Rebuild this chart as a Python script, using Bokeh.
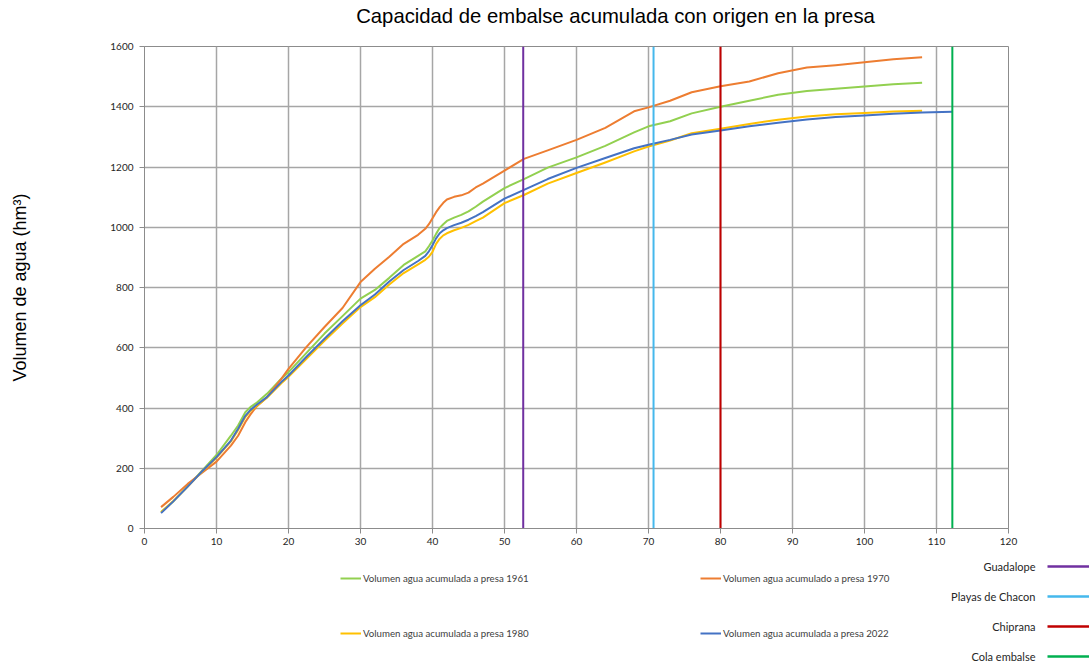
from bokeh.core.properties import value
from bokeh.embed import file_html
from bokeh.layouts import column
from bokeh.models import FixedTicker, Label, Legend, LegendItem, Range1d
from bokeh.plotting import figure
from bokeh.resources import INLINE

# Distance from the dam (km) and accumulated storage (hm3)
dist_km = [2.3, 4, 6, 8, 10, 12, 13, 14, 14.7, 15.5, 17, 19, 20, 22.5, 25, 27.5, 30, 32,
           34, 36, 38, 39, 39.5, 40, 40.5, 41, 41.5, 42, 43, 44, 45, 46, 47, 50, 52.7, 56,
           60, 64, 68, 70, 73, 76, 80, 84, 88, 92, 96, 100, 104, 108]
dist_km_2022 = dist_km + [112.2]

vol_1961 = [55, 90, 140, 192, 244, 308, 342, 386, 403, 416, 447, 497, 519, 583, 647, 705,
            763, 792, 832, 875, 905, 920, 937, 956, 978, 998, 1010, 1021, 1032, 1041, 1053,
            1068, 1085, 1130, 1160, 1198, 1232, 1270, 1315, 1335, 1352, 1378, 1400, 1420,
            1440, 1452, 1460, 1467, 1475, 1480]
vol_1970 = [71, 105, 148, 185, 222, 275, 308, 353, 378, 403, 436, 497, 530, 603, 669, 732,
            818, 862, 902, 945, 975, 995, 1010, 1030, 1050, 1067, 1081, 1092, 1101, 1106,
            1115, 1132, 1145, 1188, 1227, 1255, 1290, 1330, 1385, 1398, 1420, 1448, 1468,
            1484, 1511, 1530, 1538, 1548, 1558, 1564]
vol_1980 = [54, 91, 139, 189, 235, 289, 327, 370, 390, 405, 434, 482, 504, 563, 623, 680,
            735, 768, 810, 848, 877, 892, 902, 918, 945, 962, 973, 980, 990, 998, 1008,
            1020, 1032, 1080, 1107, 1145, 1180, 1215, 1252, 1268, 1288, 1312, 1327, 1343,
            1357, 1368, 1375, 1379, 1384, 1387]
vol_2022 = [51, 90, 139, 190, 237, 292, 331, 374, 393, 409, 436, 486, 508, 570, 630, 688,
            741, 777, 820, 858, 888, 905, 920, 940, 963, 980, 990, 997, 1007, 1015, 1025,
            1037, 1050, 1095, 1124, 1160, 1197, 1230, 1262, 1274, 1290, 1308, 1321, 1335,
            1347, 1358, 1366, 1371, 1377, 1381, 1383]

series_labels = ["Volumen agua acumulada a presa 1961",
                 "Volumen agua acumulado a presa 1970",
                 "Volumen agua acumulada a presa 1980",
                 "Volumen agua acumulada a presa 2022"]
series_colors = ["#92d050", "#ed7d31", "#ffc000", "#4472c4"]

# Reference points along the reservoir (km from the dam)
site_names = ["Guadalope", "Playas de Chacon", "Chiprana", "Cola embalse"]
site_km = [52.6, 70.7, 80.0, 112.2]
site_colors = ["#7030a0", "#45b8ec", "#c00000", "#00b050"]

x_ticks = list(range(0, 121, 10))
y_ticks = list(range(0, 1601, 200))

title_text = "Capacidad de embalse acumulada con origen en la presa"
y_label_text = "Volumen de agua (hm³)"

SMALL_FONT = "Lato"
BIG_FONT = "Liberation Sans"
TEXT_COLOR = "#404040"

W = 1089
TOP_H = 32            # title strip
MAIN_H = 558 - TOP_H  # chart, frame from y=46 to y=528 on the page
KEY_H = 666 - 558     # legend strip


def strip(height):
    f = figure(width=W, height=height, x_range=Range1d(0, 1), y_range=Range1d(0, 1),
               output_backend="svg", toolbar_location=None,
               x_axis_location=None, y_axis_location=None,
               min_border=0, outline_line_color=None)
    f.grid.visible = False
    f.title.visible = False
    f.frame_align = False
    f.background_fill_color = "white"
    f.border_fill_color = "white"
    return f


# ---- title strip ---------------------------------------------------------------
top = strip(TOP_H)
top.add_layout(Label(x=615, y=TOP_H - 15, x_units="screen", y_units="screen",
                     text=title_text, text_align="center", text_baseline="middle",
                     text_font=BIG_FONT, text_font_size="20.3px", text_color="#000000"))

# ---- main chart ------------------------------------------------------------
p = figure(width=W, height=MAIN_H,
           x_range=Range1d(x_ticks[0], x_ticks[-1]),
           y_range=Range1d(y_ticks[0], y_ticks[-1]),
           output_backend="svg", toolbar_location=None,
           min_border_left=144, min_border_right=81,
           min_border_top=46 - TOP_H, min_border_bottom=30)
p.title.visible = False
p.frame_align = False
p.background_fill_color = "white"
p.border_fill_color = "white"
p.outline_line_color = "#8c8c8c"
p.outline_line_width = 1

for ax in (p.xaxis[0], p.yaxis[0]):
    ax.axis_line_color = "#8c8c8c"
    ax.axis_line_width = 1
    ax.major_tick_line_color = "#8c8c8c"
    ax.major_tick_out = 5
    ax.major_tick_in = 0
    ax.minor_tick_line_color = None
    ax.major_label_text_font = SMALL_FONT
    ax.major_label_text_font_size = "10px"
    ax.major_label_text_color = "#262626"
p.xaxis.ticker = FixedTicker(ticks=x_ticks)
p.yaxis.ticker = FixedTicker(ticks=y_ticks)
p.xaxis.major_label_standoff = 4
p.yaxis.major_label_standoff = 6

p.yaxis.axis_label = y_label_text
p.yaxis.axis_label_text_font = BIG_FONT
p.yaxis.axis_label_text_font_size = "18px"
p.yaxis.axis_label_text_font_style = "normal"
p.yaxis.axis_label_text_color = "#000000"
p.yaxis.axis_label_standoff = 77

p.xgrid.ticker = FixedTicker(ticks=x_ticks)
p.ygrid.ticker = FixedTicker(ticks=y_ticks)
for g in (p.xgrid[0], p.ygrid[0]):
    g.grid_line_color = "#a6a6a6"
    g.grid_line_width = 1.5

# Accumulated volume curves
curve_x = [dist_km, dist_km, dist_km, dist_km_2022]
curve_y = [vol_1961, vol_1970, vol_1980, vol_2022]
for xs, ys, col in zip(curve_x, curve_y, series_colors):
    p.line(xs, ys, line_color=col, line_width=2, line_join="round")

# Vertical markers for the reservoir sites
for km, col in zip(site_km, site_colors):
    p.line([km, km], [y_ticks[0], y_ticks[-1]], line_color=col, line_width=2)

# ---- legend strip -------------------------------------------------------------
key = strip(KEY_H)

# Swatch carriers: same styling as the chart lines; their data lies outside
# the strip's 0..1 ranges so only the legend samples show.
curve_keys = [key.line(xs, ys, line_color=c, line_width=2)
              for xs, ys, c in zip(curve_x, curve_y, series_colors)]
site_keys = [key.line([km, km], [y_ticks[0], y_ticks[-1]], line_color=c, line_width=2.5)
             for km, c in zip(site_km, site_colors)]

# items fill column by column: 1961 / 1980 on the left, 1970 / 2022 on the right
order = [0, 2, 1, 3]
curve_legend = Legend(
    items=[LegendItem(label=value(series_labels[i]), renderers=[curve_keys[i]])
           for i in order],
    location=(340, KEY_H - 85),
    ncols=2, glyph_width=21, glyph_height=20, label_height=20,
    label_width=302, label_standoff=2, spacing=35, padding=0, margin=0,
    border_line_color=None, background_fill_alpha=0,
    label_text_font=SMALL_FONT, label_text_font_size="9.7px",
    label_text_color=TEXT_COLOR,
)
key.add_layout(curve_legend)

site_legend = Legend(
    items=[LegendItem(label=value(" "), renderers=[r]) for r in site_keys],
    location=(1047, KEY_H - 103),
    glyph_width=43, glyph_height=10, label_height=10, label_width=0,
    label_standoff=0, spacing=20, padding=0, margin=0,
    border_line_color=None, background_fill_alpha=0,
    label_text_font_size="1px",
)
key.add_layout(site_legend)

for i, name in enumerate(site_names):
    key.add_layout(Label(x=1035, y=KEY_H - (8 + 30 * i),
                         x_units="screen", y_units="screen", text=name,
                         text_align="right", text_baseline="middle",
                         text_font=SMALL_FONT, text_font_size="11px",
                         text_color="#262626"))

page = column(top, p, key, spacing=0)
open("out.html", "w").write(file_html(page, INLINE))
